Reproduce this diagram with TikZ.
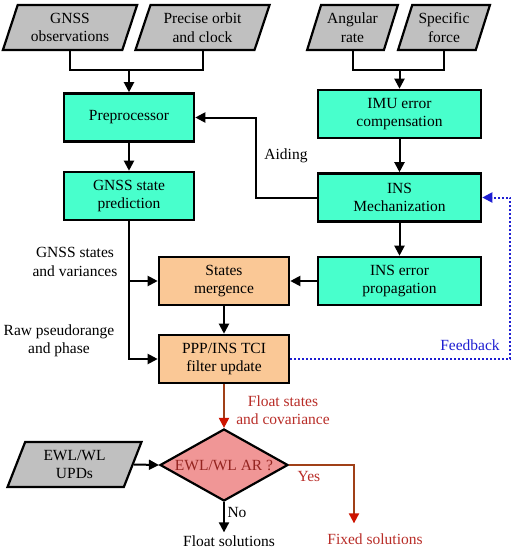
\documentclass[tikz,border=0pt]{standalone}
\usepackage{fontspec}
\setmainfont{Liberation Serif}
\usetikzlibrary{shapes.geometric,arrows.meta,calc}
\definecolor{teal1}{RGB}{72,255,204}
\definecolor{orng}{RGB}{250,200,150}
\definecolor{gry}{RGB}{192,192,192}
\definecolor{pnk}{RGB}{240,150,150}
\definecolor{brn}{RGB}{160,64,24}
\definecolor{redtip}{RGB}{205,20,0}
\definecolor{redtxt}{RGB}{185,45,40}
\definecolor{fbblue}{RGB}{30,30,210}
\begin{document}
\begin{tikzpicture}[x=1pt,y=-1pt,
  every node/.style={font=\fontsize{15.5}{18.5}\selectfont, align=center},
  para/.style={trapezium, trapezium left angle=69, trapezium right angle=111, trapezium stretches=true,
     draw=black, line width=2.2pt, fill=gry, minimum height=45pt, inner sep=0pt},
  tbox/.style={rectangle, draw=black, line width=2.6pt, fill=teal1, minimum width=130pt, minimum height=48pt, inner sep=0pt},
  obox/.style={rectangle, draw=black, line width=2.6pt, fill=orng, minimum width=130pt, minimum height=48pt, inner sep=0pt},
  conn/.style={draw=black, line width=2pt},
  arr/.style={conn, -{Triangle[length=10pt,width=10pt]}},
  farr/.style={draw=fbblue, line width=2pt, dotted, -{Triangle[length=10pt,width=10pt,fill=fbblue]}},
  rarr/.style={draw=brn, line width=2pt, -{Triangle[length=10pt,width=10pt,color=redtip]}},
  lbl/.style={inner sep=0pt}
]
\useasboundingbox (0,0) rectangle (513,550);
\fill[white] (0,0) rectangle (513,550);

% inputs
\node[para, minimum width=135pt] (gnss) at (70,27.5) {GNSS\\observations};
\node[para, minimum width=135pt] (orbit) at (202.5,27.5) {Precise orbit\\and clock};
\node[para, minimum width=91pt] (ang) at (352.5,27.5) {Angular\\rate};
\node[para, minimum width=92pt] (spec) at (444,27.5) {Specific\\force};

% GNSS side
\node[tbox] (pre) at (129,117.5) {Preprocessor};
\node[tbox] (pred) at (129,196) {GNSS state\\prediction};
% INS side
\node[tbox, minimum width=163pt] (imu) at (399.5,114) {IMU error\\compensation};
\node[tbox, minimum width=163pt] (mech) at (399.5,197.5) {INS\\Mechanization};
\node[tbox, minimum width=163pt] (prop) at (399.5,281) {INS error\\propagation};
% fusion
\node[obox] (merge) at (224,281) {States\\mergence};
\node[obox] (ppp) at (224,359) {PPP/INS TCI\\filter update};
% decision
\node[diamond, draw=black, line width=2.2pt, fill=pnk, minimum width=128pt, minimum height=72pt, inner sep=0pt, text=redtxt!80!black] (dec) at (224,465) {\makebox[0pt]{EWL/WL AR ?}};
\node[para, minimum width=135pt] (upd) at (74.5,464.5) {EWL/WL\\UPDs};
\node[lbl] (float) at (229,541) {Float solutions};
\node[lbl, text=redtxt] (fixed) at (375,539) {Fixed solutions};

% labels
\node[lbl] (aid) at (286,156) {Aiding};
\node[lbl] (gsv) at (75,262) {GNSS states\\and variances};
\node[lbl] (raw) at (59,341) {Raw pseudorange\\and phase};
\node[lbl, text=fbblue] (fb) at (470,345) {Feedback};
\node[lbl, text=redtxt] (fsc) at (283,410) {Float states\\and covariance};
\node[lbl, text=redtxt] (yes) at (309,476) {Yes};
\node[lbl] (no) at (237,512) {No};

% junctions
\coordinate (j1) at (129,70);
\coordinate (j2) at (399.5,70);

% connectors
\draw[conn] (gnss.south) |- (j1) -| (orbit.south);
\draw[arr] (j1) -- (pre.north);
\draw[conn] (ang.south) |- (j2) -| (spec.south);
\draw[arr] (j2) -- (imu.north);
\draw[arr] (pre) -- (pred);
\draw[arr] (imu) -- (mech);
\draw[arr] (mech) -- (prop);
\draw[arr] (mech.west) -- ++(-61,0) |- (pre.east);
\draw[arr] (pred.south) |- (ppp.west);
\draw[arr] (pred.south |- merge.west) -- (merge.west);
\draw[arr] (prop.west) -- (merge.east);
\draw[arr] (merge) -- (ppp);
\draw[farr] (ppp.east) -- ++(220,0) |- (mech.east);
\draw[rarr] (ppp.south) -- (dec.north);
\draw[arr] (upd.east) -- (dec.west);
\draw[arr] (dec.south) -- ([yshift=3pt]float.north -| dec.south);
\draw[rarr] (dec.east) -| ([xshift=-21pt,yshift=10pt]fixed.north);
\end{tikzpicture}
\end{document}
